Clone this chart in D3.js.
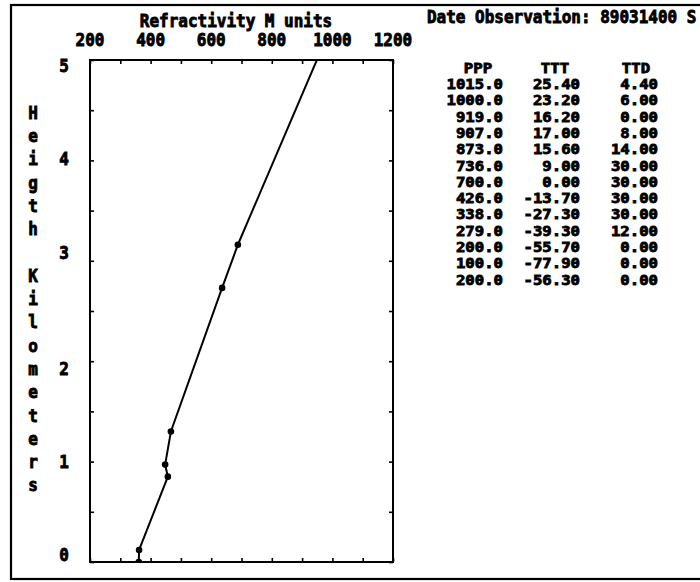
<!DOCTYPE html>
<html>
<head>
<meta charset="utf-8">
<script src="https://cdn.jsdelivr.net/npm/d3@7"></script>
<style>
  html, body { margin: 0; padding: 0; background: #fff; }
  svg text { font-family: "DejaVu Sans Mono", "Liberation Mono", monospace; font-weight: bold; fill: #000; }
</style>
</head>
<body>
<svg id="chart" width="700" height="582"></svg>
<script>
// Refractivity profile (M units vs height in km)
const refractivityM = [361, 362, 457, 448, 467, 636, 688, 1218];
const heightKm      = [0.00, 0.12, 0.85, 0.97, 1.30, 2.73, 3.16, 6.90];

// Axis ticks
const xTickLabels = [200, 400, 600, 800, 1000, 1200];
const yTickLabels = [0, 1, 2, 3, 4, 5];
const xMinorTicks = d3.range(200, 1201, 100);
const yMinorTicks = d3.range(0, 5.01, 0.5);

// Sounding table
const tableHeaders = ["PPP", "TTT", "TTD"];
const ppp = ["1015.0", "1000.0", "919.0", "907.0", "873.0", "736.0", "700.0", "426.0", "338.0", "279.0", "200.0", "100.0", "200.0"];
const ttt = ["25.40", "23.20", "16.20", "17.00", "15.60", "9.00", "0.00", "-13.70", "-27.30", "-39.30", "-55.70", "-77.90", "-56.30"];
const ttd = ["4.40", "6.00", "0.00", "8.00", "14.00", "30.00", "30.00", "30.00", "30.00", "12.00", "0.00", "0.00", "0.00"];

const titleText = "Refractivity M units";
const dateText = "Date Observation: 89031400 S";
const yAxisTitle = "Heigth Kilometers";

const svg = d3.select("#chart");
const plot = { left: 90, right: 393, top: 60, bottom: 562 };
const rowH = 23.28;          // text-row height of the character grid
const rowTop = 66;           // centre of the row holding the top y label

const x = d3.scaleLinear().domain([200, 1200]).range([plot.left, plot.right]);
const y = d3.scaleLinear().domain([0, 5]).range([plot.bottom, plot.top]);

function label(g, px, py, s, anchor, size, sx, sy) {
  return g.append("text")
    .attr("transform", `translate(${px},${py}) scale(${sx || 1},${sy || 1.12})`)
    .attr("text-anchor", anchor || "middle")
    .attr("dominant-baseline", "central")
    .attr("font-size", size || 16)
    .attr("stroke", "#000").attr("stroke-width", 0.8)
    .text(s);
}

// outer frame
svg.append("rect").attr("x", 11).attr("y", 5).attr("width", 720).attr("height", 574)
  .attr("fill", "none").attr("stroke", "#000").attr("stroke-width", 2.2);

// plot frame
svg.append("rect").attr("x", plot.left).attr("y", plot.top)
  .attr("width", plot.right - plot.left).attr("height", plot.bottom - plot.top)
  .attr("fill", "none").attr("stroke", "#000").attr("stroke-width", 2);

// inward tick marks on all four sides
const tickLen = 4;
const axes = [
  [d3.axisLeft(y).tickValues(yMinorTicks), `translate(${plot.left},0)`],
  [d3.axisRight(y).tickValues(yMinorTicks), `translate(${plot.right},0)`],
  [d3.axisTop(x).tickValues(xMinorTicks), `translate(0,${plot.top})`],
  [d3.axisBottom(x).tickValues(xMinorTicks), `translate(0,${plot.bottom})`]
];
axes.forEach(([ax, tr]) => {
  const g = svg.append("g").attr("transform", tr)
    .call(ax.tickSizeInner(-tickLen).tickSizeOuter(0).tickFormat(""));
  g.select(".domain").remove();
  g.selectAll(".tick line").attr("stroke", "#000").attr("stroke-width", 1.6);
});

// titles and tick labels
label(svg, x(200) + 146, 21, titleText);
label(svg, 427, 17, dateText, "start");
xTickLabels.forEach(v => label(svg, x(v), 40, String(v)));

// y labels snap to text rows
const nRows = 21;
yTickLabels.forEach(v => {
  const row = Math.round((y(v) - y(5)) / (y(0) - y(5)) * nRows);
  label(svg, 64, rowTop + row * rowH, String(v));
});

// vertical axis title, one character per row
yAxisTitle.split("").forEach((c, i) => {
  if (c !== " ") label(svg, 33, rowTop + (i + 2) * rowH, c);
});

// profile line and points, clipped to the plot area
svg.append("clipPath").attr("id", "plotClip").append("rect")
  .attr("x", plot.left).attr("y", plot.top)
  .attr("width", plot.right - plot.left).attr("height", plot.bottom - plot.top);

const pts = refractivityM.map((m, i) => [m, heightKm[i]]);
const pg = svg.append("g").attr("clip-path", "url(#plotClip)");
pg.append("path")
  .attr("d", d3.line().x(d => x(d[0])).y(d => y(d[1]))(pts))
  .attr("fill", "none").attr("stroke", "#000").attr("stroke-width", 2);
pg.selectAll("circle").data(pts).join("circle")
  .attr("cx", d => x(d[0])).attr("cy", d => y(d[1])).attr("r", 3.3)
  .attr("fill", "#000");

// sounding table
const colRight = [503, 580, 658];
const headCenter = [478, 555, 636];
const tableTop = 68, tableRow = 16.3;
const tg = svg.append("g");
tableHeaders.forEach((h, j) => label(tg, headCenter[j], tableTop, h, "middle", 13.5, 1.16, 1.0));
[ppp, ttt, ttd].forEach((col, j) => {
  col.forEach((s, i) => label(tg, colRight[j], tableTop + 16 + i * tableRow, s, "end", 13.5, 1.16, 1.0));
});
</script>
</body>
</html>
